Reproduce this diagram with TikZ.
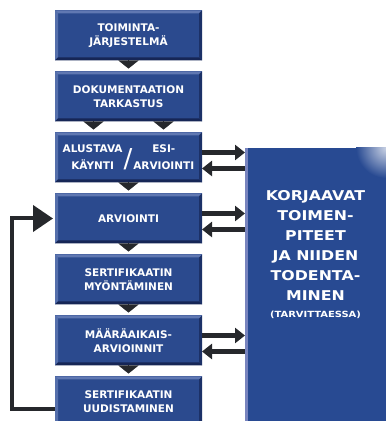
\documentclass[tikz,border=0pt]{standalone}
\usepackage{fontspec}
\usetikzlibrary{positioning,arrows.meta}
\newfontfamily\boxfont{DejaVu Sans}
\newfontfamily\korfont{DejaVu Sans}[FakeStretch=1.17]
\definecolor{boxblue}{RGB}{43,74,142}
\definecolor{boxlight}{RGB}{96,120,178}
\definecolor{boxdark}{RGB}{22,38,86}
\definecolor{korblue}{RGB}{40,74,146}
\definecolor{korlight}{RGB}{120,132,190}
\definecolor{arrowgray}{RGB}{38,40,44}

\begin{document}
\begin{tikzpicture}[x=1pt,y=1pt,
  stage/.style={fill=boxblue, text=white, minimum width=147pt, minimum height=50pt,
    inner sep=0pt, outer sep=0pt, align=center,
    font=\boxfont\bfseries\fontsize{10.5}{14.5}\selectfont, bevel},
  bevel/.style={path picture={
    \fill[boxlight] (path picture bounding box.north west) -- (path picture bounding box.north east)
      -- ([shift={(-3pt,-3pt)}]path picture bounding box.north east)
      -- ([shift={(3pt,-3pt)}]path picture bounding box.north west) -- cycle;
    \fill[boxlight!80!boxblue] (path picture bounding box.north west) -- ([shift={(3pt,-3pt)}]path picture bounding box.north west)
      -- ([shift={(3pt,3pt)}]path picture bounding box.south west) -- (path picture bounding box.south west) -- cycle;
    \fill[boxdark] (path picture bounding box.south west) -- (path picture bounding box.south east)
      -- ([shift={(-3pt,3pt)}]path picture bounding box.south east)
      -- ([shift={(3pt,3pt)}]path picture bounding box.south west) -- cycle;
    \fill[boxdark!70!boxblue] (path picture bounding box.north east) -- (path picture bounding box.south east)
      -- ([shift={(-3pt,3pt)}]path picture bounding box.south east)
      -- ([shift={(-3pt,-3pt)}]path picture bounding box.north east) -- cycle;
  }},
  korbox/.style={fill=korblue, minimum width=141pt, minimum height=273pt, inner sep=0pt, outer sep=0pt},
  kortext/.style={text=white, align=center, font=\korfont\bfseries\fontsize{13.5}{20}\selectfont},
  drop/.style={draw=arrowgray, line width=0.2pt, -{Triangle[width=20pt,length=8pt]}, shorten >=3pt},
  flow/.style={draw=arrowgray, line width=5pt, -{Triangle[width=15pt,length=10pt]}},
  back/.style={draw=arrowgray, line width=4pt, line join=miter, -{Triangle[width=26pt,length=20pt]}, shorten >=2pt}]
 	\useasboundingbox (0,0) rectangle (386,421);
 	\fill[white] (0,0) rectangle (386,421);
 	% stages
 	\node[stage] (sys) at (128.5,385.5) {TOIMINTA-\\JÄRJESTELMÄ};
 	\node[stage, below=11pt of sys] (doc) {DOKUMENTAATION\\TARKASTUS};
 	\node[stage, below=11pt of doc] (pre) {\def\arraystretch{1.2}%
 	  \begin{tabular}{@{}c@{}}ALUSTAVA\\KÄYNTI\end{tabular}\hspace{1pt}%
 	  \raisebox{-7pt}{\fontsize{26}{26}\mdseries\selectfont/}\hspace{1pt}%
 	  \begin{tabular}{@{}c@{}}ESI-\\ARVIOINTI\end{tabular}};
 	\node[stage, below=11pt of pre] (audit) {ARVIOINTI};
 	\node[stage, below=11pt of audit] (cert) {SERTIFIKAATIN\\MYÖNTÄMINEN};
 	\node[stage, below=11pt of cert] (surv) {MÄÄRÄAIKAIS-\\ARVIOINNIT};
 	\node[stage, below=11pt of surv] (renew) {SERTIFIKAATIN\\UUDISTAMINEN};
 	% corrective actions
 	\node[korbox] (kor) at (315.5,136.5) {};
 	\fill[korlight] (kor.north west) rectangle ([xshift=3pt]kor.south west);
 	\begin{scope}
 	  \clip (kor.south west) rectangle (kor.north east);
 	  \shade[inner color=white!75!korblue, outer color=korblue] (kor.north east) circle (30pt);
 	\end{scope}
 	\node[kortext] (kortxt) at ([yshift=30pt]kor.center)
 	  {KORJAAVAT\\TOIMEN-\\PITEET\\JA NIIDEN\\TODENTA-\\MINEN\\[-3pt]{\fontsize{8.5}{12}\selectfont(TARVITTAESSA)}};
 	% steps
 	\draw[drop] (sys.south) -- (doc.north);
 	\draw[drop] ([xshift=-35pt]doc.south) -- ([xshift=-35pt]pre.north);
 	\draw[drop] ([xshift=35pt]doc.south) -- ([xshift=35pt]pre.north);
 	\draw[drop] (pre.south) -- (audit.north);
 	\draw[drop] (audit.south) -- (cert.north);
 	\draw[drop] (cert.south) -- (surv.north);
 	\draw[drop] (surv.south) -- (renew.north);
 	% to and from corrective actions
 	\foreach \s in {pre,audit,surv} {
 	  \draw[flow] ([yshift=5pt]\s.east) -- ([yshift=5pt]\s.east -| kor.west);
 	  \draw[flow] ([yshift=-11pt]\s.east -| kor.west) -- ([yshift=-11pt]\s.east);
 	}
 	% renewal back to audit
 	\draw[back] ([yshift=-8pt]renew.west) -- ++(-43pt,0) |- (audit.west);
\end{tikzpicture}
\end{document}
